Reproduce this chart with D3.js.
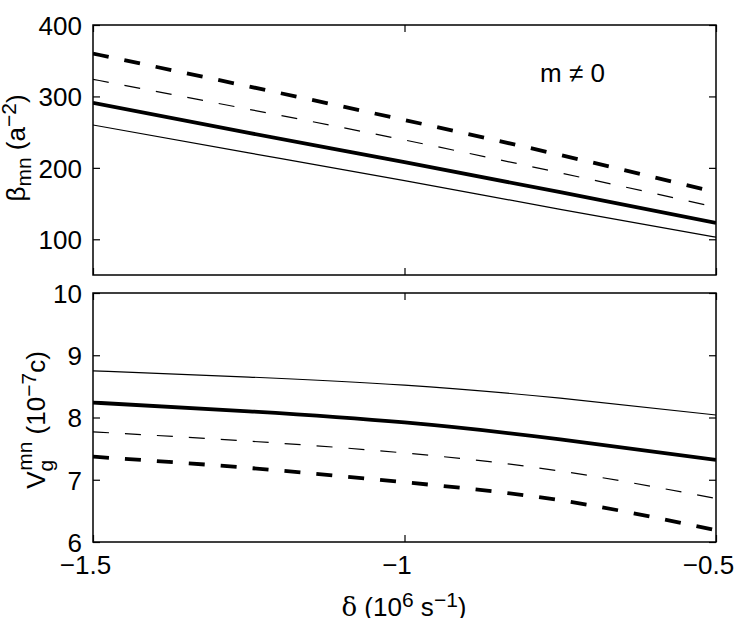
<!DOCTYPE html>
<html>
<head>
<meta charset="utf-8">
<script src="https://cdn.jsdelivr.net/npm/d3@7"></script>
<style>
  body { margin: 0; background: #fff; }
  svg text { font-family: "Liberation Sans", Arial, Helvetica, sans-serif; fill: #000; }
</style>
</head>
<body>
<div id="chart"></div>
<script>
// delta (10^6 s^-1)
var deltas = [-1.5, -1.25, -1, -0.75, -0.5];

// top panel: beta_mn (a^-2)
var betaThinSolid = [260, 221, 182, 142, 103];
var betaThickSolid = [291, 249, 208, 166, 123];
var betaThinDashed = [324, 282, 239, 193, 145];
var betaThickDashed = [360, 314, 267, 218, 166];

// bottom panel: V_g^mn (10^-7 c)
var vThinSolid = [8.75, 8.65, 8.52, 8.31, 8.04];
var vThickSolid = [8.24, 8.10, 7.92, 7.65, 7.32];
var vThinDashed = [7.77, 7.62, 7.43, 7.14, 6.70];
var vThickDashed = [7.37, 7.19, 6.96, 6.67, 6.19];

var xTicks = [-1.5, -1, -0.5];
var xTickLabels = ['\u22121.5', '\u22121', '\u22120.5'];
var betaTicks = [100, 200, 300, 400];
var vTicks = [6, 7, 8, 9, 10];

var width = 747, height = 618;
var left = 93, right = 716;
var tickLen = 7;
var fontSize = '26px';
var subSize = '21px';

var svg = d3.select('#chart').append('svg')
  .attr('width', width)
  .attr('height', height);

var x = d3.scaleLinear().domain([-1.5, -0.5]).range([left, right]);

var styles = {
  thinSolid: { w: 1.2, dash: null },
  thickSolid: { w: 3.8, dash: null },
  thinDashed: { w: 1.2, dash: '16,16' },
  thickDashed: { w: 3.8, dash: '16,16' }
};

function panel(opts) {
  var y = d3.scaleLinear().domain(opts.domain).range([opts.bottom, opts.top]);
  var g = svg.append('g');

  var line = d3.line()
    .x(function (d, i) { return x(deltas[i]); })
    .y(function (d) { return y(d); })
    .curve(d3.curveNatural);

  var clipId = 'clip' + opts.name;
  svg.append('clipPath').attr('id', clipId)
    .append('rect')
      .attr('x', left).attr('y', opts.top)
      .attr('width', right - left).attr('height', opts.bottom - opts.top);

  opts.series.forEach(function (s) {
    var st = styles[s.style];
    g.append('path')
      .datum(s.values)
      .attr('clip-path', 'url(#' + clipId + ')')
      .attr('d', line)
      .attr('fill', 'none')
      .attr('stroke', '#000')
      .attr('stroke-width', st.w)
      .attr('stroke-dasharray', st.dash);
  });

  // axes on all four sides, ticks pointing inward
  var axL = g.append('g').attr('transform', 'translate(' + left + ',0)')
    .call(d3.axisLeft(y).tickValues(opts.ticks).tickSizeInner(-tickLen).tickSizeOuter(0)
      .tickPadding(11).tickFormat(d3.format('d')));
  var axR = g.append('g').attr('transform', 'translate(' + right + ',0)')
    .call(d3.axisRight(y).tickValues(opts.ticks).tickSizeInner(-tickLen).tickSizeOuter(0).tickFormat(''));
  var axT = g.append('g').attr('transform', 'translate(0,' + opts.top + ')')
    .call(d3.axisTop(x).tickValues(xTicks).tickSizeInner(-tickLen).tickSizeOuter(0).tickFormat(''));
  var axB = g.append('g').attr('transform', 'translate(0,' + opts.bottom + ')')
    .call(d3.axisBottom(x).tickValues(xTicks).tickSizeInner(-tickLen).tickSizeOuter(0)
      .tickPadding(13)
      .tickFormat(opts.showX ? function (d, i) { return xTickLabels[i]; } : ''));

  [axL, axR, axT, axB].forEach(function (a) {
    a.select('.domain').remove();
    a.selectAll('line').attr('stroke', '#000').attr('stroke-width', 1.2);
    a.selectAll('text').style('font-size', fontSize).style('font-family', '"Liberation Sans", Arial, sans-serif');
  });
  axL.selectAll('text').attr('dy', '0.36em');
  axB.selectAll('text').attr('dx', '-8').attr('dy', '0.72em');

  g.append('rect')
    .attr('x', left).attr('y', opts.top)
    .attr('width', right - left).attr('height', opts.bottom - opts.top)
    .attr('fill', 'none')
    .attr('stroke', '#000')
    .attr('stroke-width', 1.5);

  return y;
}

panel({
  name: 'beta', top: 25, bottom: 275, domain: [50, 400], ticks: betaTicks, showX: false,
  series: [
    { style: 'thinSolid', values: betaThinSolid },
    { style: 'thickSolid', values: betaThickSolid },
    { style: 'thinDashed', values: betaThinDashed },
    { style: 'thickDashed', values: betaThickDashed }
  ]
});

panel({
  name: 'vg', top: 293, bottom: 542, domain: [6, 10], ticks: vTicks, showX: true,
  series: [
    { style: 'thinSolid', values: vThinSolid },
    { style: 'thickSolid', values: vThickSolid },
    { style: 'thinDashed', values: vThinDashed },
    { style: 'thickDashed', values: vThickDashed }
  ]
});

// annotation
svg.append('text')
  .attr('x', 540).attr('y', 82)
  .style('font-size', fontSize)
  .text('m \u2260 0');

// y labels
var yl1 = svg.append('text')
  .attr('transform', 'translate(25,148) rotate(-90)')
  .attr('text-anchor', 'middle')
  .style('font-size', fontSize);
yl1.append('tspan').text('\u03b2');
yl1.append('tspan').attr('baseline-shift', '-30%').style('font-size', subSize).text('mn');
yl1.append('tspan').text(' (a');
yl1.append('tspan').attr('baseline-shift', '45%').style('font-size', subSize).text('\u22122');
yl1.append('tspan').text(')');

var yl2 = svg.append('text')
  .attr('transform', 'translate(45,420) rotate(-90)')
  .attr('text-anchor', 'middle')
  .style('font-size', fontSize);
yl2.append('tspan').text('V');
yl2.append('tspan').attr('dy', '8').style('font-size', subSize).text('g');
yl2.append('tspan').attr('dx', '-11').attr('dy', '-21').style('font-size', subSize).text('mn');
yl2.append('tspan').attr('dy', '13').text(' (10');
yl2.append('tspan').attr('baseline-shift', '45%').style('font-size', subSize).text('\u22127');
yl2.append('tspan').text('c)');

// x label
var xl = svg.append('text')
  .attr('x', 404).attr('y', 616)
  .attr('text-anchor', 'middle')
  .style('font-size', fontSize);
xl.append('tspan').style('font-family', '"DejaVu Serif", "Liberation Serif", serif').text('\u03b4');
xl.append('tspan').text(' (10');
xl.append('tspan').attr('baseline-shift', '45%').style('font-size', subSize).text('6');
xl.append('tspan').text(' s');
xl.append('tspan').attr('baseline-shift', '45%').style('font-size', subSize).text('\u22121');
xl.append('tspan').text(')');
</script>
</body>
</html>
